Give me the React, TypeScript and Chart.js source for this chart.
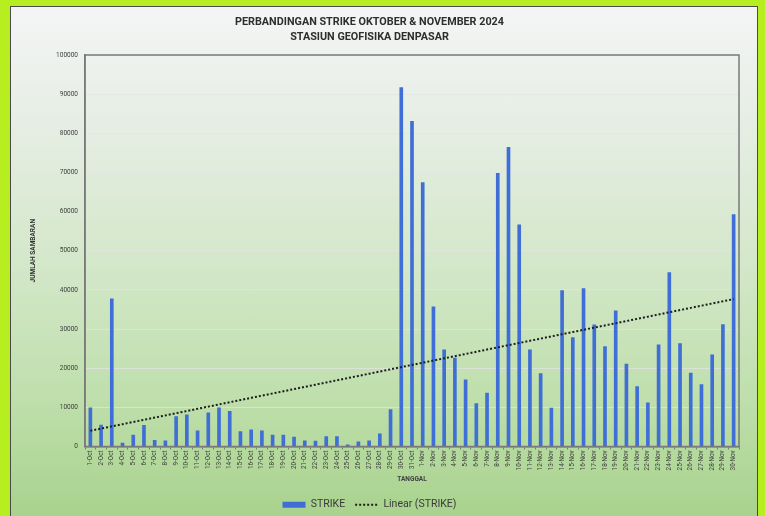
import React, { useEffect, useRef } from "react";
import { Chart, registerables } from "chart.js";

Chart.register(...registerables);

const TITLE_LINES = ["PERBANDINGAN STRIKE OKTOBER & NOVEMBER 2024", "STASIUN GEOFISIKA DENPASAR"];
const Y_TITLE = "JUMLAH SAMBARAN";
const X_TITLE = "TANGGAL";
const SERIES_NAME = "STRIKE";
const TREND_NAME = "Linear (STRIKE)";

const categories = [
  "1-Oct", "2-Oct", "3-Oct", "4-Oct", "5-Oct", "6-Oct", "7-Oct", "8-Oct", "9-Oct", "10-Oct",
  "11-Oct", "12-Oct", "13-Oct", "14-Oct", "15-Oct", "16-Oct", "17-Oct", "18-Oct", "19-Oct", "20-Oct",
  "21-Oct", "22-Oct", "23-Oct", "24-Oct", "25-Oct", "26-Oct", "27-Oct", "28-Oct", "29-Oct", "30-Oct",
  "31-Oct",
  "1-Nov", "2-Nov", "3-Nov", "4-Nov", "5-Nov", "6-Nov", "7-Nov", "8-Nov", "9-Nov", "10-Nov",
  "11-Nov", "12-Nov", "13-Nov", "14-Nov", "15-Nov", "16-Nov", "17-Nov", "18-Nov", "19-Nov", "20-Nov",
  "21-Nov", "22-Nov", "23-Nov", "24-Nov", "25-Nov", "26-Nov", "27-Nov", "28-Nov", "29-Nov", "30-Nov",
];

const strikeOct = [
  9900, 5500, 37700, 870, 2900, 5400, 1600, 1450, 7650, 8100,
  4000, 8600, 9900, 9000, 3800, 4260, 4000, 2900, 2900, 2400,
  1450, 1400, 2550, 2550, 430, 1200, 1450, 3240, 9450, 91650,
  83070,
];

const strikeNov = [
  67400, 35670, 24690, 22570, 17030, 10980, 13630, 69800, 76430, 56600,
  24690, 18640, 9800, 39830, 27830, 40340, 31070, 25530, 34640, 21030,
  15320, 11160, 25960, 44420, 26300, 18740, 15830, 23410, 31150, 59230,
];

const yTicks = [0, 10000, 20000, 30000, 40000, 50000, 60000, 70000, 80000, 90000, 100000];

// Linear trendline (least squares) over the STRIKE series, like Excel's "Linear (STRIKE)"
function linearTrend(values: number[]): number[] {
  const n = values.length;
  let sx = 0, sy = 0, sxx = 0, sxy = 0;
  values.forEach((v, i) => {
    const x = i + 1;
    sx += x; sy += v; sxx += x * x; sxy += x * v;
  });
  const slope = (n * sxy - sx * sy) / (n * sxx - sx * sx);
  const intercept = (sy - slope * sx) / n;
  return values.map((_, i) => intercept + slope * (i + 1));
}

export default function App() {
  const canvasRef = useRef<HTMLCanvasElement | null>(null);

  useEffect(() => {
    if (!canvasRef.current) return;
    const strike = [...strikeOct, ...strikeNov];
    const trend = linearTrend(strike);

    const plotBox = {
      id: "plotBox",
      beforeDatasetsDraw(chart: any) {
        const { ctx, chartArea } = chart;
        ctx.save();
        ctx.strokeStyle = "#7a7a7a";
        ctx.lineWidth = 1.5;
        ctx.strokeRect(chartArea.left, chartArea.top, chartArea.right - chartArea.left, chartArea.bottom - chartArea.top);
        ctx.restore();
      },
    };

    const chart = new Chart(canvasRef.current, {
      type: "bar",
      data: {
        labels: categories,
        datasets: [
          {
            type: "bar",
            label: SERIES_NAME,
            data: strike,
            backgroundColor: "#3f6fd6",
            borderWidth: 0,
            barThickness: 3,
            order: 1,
          } as any,
          {
            type: "line",
            label: TREND_NAME,
            data: trend,
            borderColor: "#1e1e1e",
            borderWidth: 2,
            borderDash: [2, 2],
            pointRadius: 0,
            fill: false,
            order: 0,
          } as any,
        ],
      },
      plugins: [plotBox],
      options: {
        responsive: false,
        animation: false,
        layout: { padding: { left: 0, right: 26, top: 0, bottom: -4 } },
        plugins: {
          tooltip: { enabled: false },
          title: {
            display: true,
            text: TITLE_LINES,
            color: "#2e2e2e",
            font: { family: "Roboto", size: 10.8, weight: "bold", lineHeight: 15 / 10.8 },
            padding: { top: 14.5, bottom: 10.5 },
          },
          legend: {
            position: "bottom",
            labels: {
              color: "#3a3a3a",
              font: { family: "Roboto", size: 10.5 },
              padding: 10,
              usePointStyle: true,
              pointStyleWidth: 23,
              boxHeight: 6,
              generateLabels: () => [
                {
                  text: SERIES_NAME,
                  fillStyle: "#3f6fd6",
                  strokeStyle: "#3f6fd6",
                  lineWidth: 0,
                  pointStyle: "rect",
                  datasetIndex: 0,
                  fontColor: "#3a3a3a",
                } as any,
                {
                  text: TREND_NAME,
                  fillStyle: "rgba(0,0,0,0)",
                  strokeStyle: "#1e1e1e",
                  lineWidth: 2,
                  lineDash: [2, 2],
                  pointStyle: "line",
                  datasetIndex: 1,
                  fontColor: "#3a3a3a",
                } as any,
              ],
            },
          },
        },
        scales: {
          x: {
            offset: true,
            afterFit: (scale: any) => { scale.height = 43; },
            grid: {
              display: true,
              drawOnChartArea: false,
              offset: true,
              tickLength: 3,
              color: "#7a7a7a",
            },
            border: { display: true, color: "#7a7a7a", width: 1.5 },
            ticks: {
              autoSkip: false,
              minRotation: 90,
              maxRotation: 90,
              padding: 1,
              color: "#404040",
              font: { family: "Roboto", size: 6.3 },
            },
            title: {
              display: true,
              text: X_TITLE,
              color: "#404040",
              font: { family: "Roboto", size: 6.5, weight: "bold", lineHeight: 1.2 },
              padding: { top: 0, bottom: 6 },
            },
          },
          y: {
            min: 0,
            max: 100000,
            afterFit: (scale: any) => { scale.width = 85; },
            afterBuildTicks: (scale: any) => { scale.ticks = yTicks.map((v) => ({ value: v })); },
            grid: {
              drawTicks: false,
              color: "rgba(225,228,225,0.75)",
              lineWidth: 1,
            },
            border: { display: true, color: "#7a7a7a", width: 1.5 },
            ticks: {
              padding: 7,
              color: "#404040",
              font: { family: "Roboto", size: 6.5 },
              callback: (v: any) => String(v),
            },
            title: {
              display: true,
              text: Y_TITLE,
              color: "#333333",
              font: { family: "Roboto", size: 6.5, weight: "bold", lineHeight: 1.2 },
              padding: { top: 29, bottom: 0 },
            },
          },
        },
      } as any,
    });

    return () => chart.destroy();
  }, []);

  return (
    <div style={{ position: "fixed", left: 0, top: 0, width: 765, height: 516, background: "#b6ee1f", overflow: "hidden" }}>
      <div
        style={{
          position: "absolute",
          left: 10,
          top: 6,
          width: 746,
          height: 520,
          border: "1px solid #4a4a4a",
          background: "linear-gradient(to bottom, #f4f5f5 0%, #e6eee4 22%, #d3e7c9 50%, #bfdfac 75%, #a6d18a 100%)",
        }}
      />
      <canvas ref={canvasRef} width={765} height={516} style={{ position: "absolute", left: 0, top: 0 }} />
    </div>
  );
}
